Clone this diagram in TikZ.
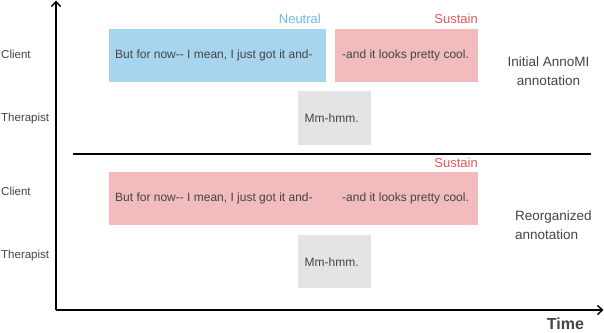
\documentclass[tikz,border=0pt]{standalone}
\usepackage{fontspec}
\setmainfont{Liberation Sans}
\usetikzlibrary{arrows.meta}
\definecolor{bluefill}{RGB}{166,213,237}
\definecolor{pinkfill}{RGB}{242,187,189}
\definecolor{grayfill}{RGB}{228,228,228}
\definecolor{neutralc}{RGB}{110,185,225}
\definecolor{sustainc}{RGB}{230,85,95}
\definecolor{txt}{RGB}{68,68,68}
\tikzset{
  box/.style={rectangle, inner sep=0pt, anchor=north west},
  utt/.style={font=\fontsize{12}{14}\selectfont, text=txt, inner sep=0pt},
  lab/.style={font=\fontsize{11.5}{13}\selectfont, text=txt, inner sep=0pt, anchor=west},
  tag/.style={font=\fontsize{13}{15}\selectfont, inner sep=0pt, anchor=east},
  note/.style={font=\fontsize{13.5}{19}\selectfont, text=txt, inner sep=0pt},
  axis/.style={line width=1.4pt, -{Straight Barb[length=5pt,width=9pt]}},
}
\begin{document}
\begin{tikzpicture}[x=1pt,y=-1pt]
\useasboundingbox (0,0) rectangle (604,332);
% axes
\coordinate (origin) at (56,310);
\coordinate (ytop) at (56,0.5);
\coordinate (xend) at (603.5,310);
\draw[axis] (origin) -- (ytop);
\draw[axis] (origin) -- (xend);
\node[font=\bfseries\fontsize{16}{18}\selectfont, text=txt, inner sep=0pt] (time) at (565.5,324) {Time};
% divider
\coordinate (d1) at (73,154);
\coordinate (d2) at (591,154);
\draw[line width=1.4pt] (d1) -- (d2);
% row labels
\node[lab] (c1) at (1,54) {Client};
\node[lab] (t1) at (1,119) {Therapist};
\node[lab] (c2) at (1,191) {Client};
\node[lab] (t2) at (1,256) {Therapist};
% top boxes
\node[box, fill=bluefill, minimum width=217pt, minimum height=53pt] (b1) at (109,29) {};
\node[box, fill=pinkfill, minimum width=143pt, minimum height=53pt] (p1) at (335,29) {};
\node[box, fill=grayfill, minimum width=73pt, minimum height=54pt] (g1) at (298,91) {};
\node[utt, anchor=west] (u1) at ([xshift=6pt]b1.west) {But for now-{}- I mean, I just got it and-};
\node[utt, anchor=west] (u2) at ([xshift=7pt]p1.west) {-and it looks pretty cool.};
\node[utt] (u3) at ([xshift=-3pt]g1.center) {Mm-hmm.};
\node[tag, text=neutralc] (neu) at (321,19) {Neutral};
\node[tag, text=sustainc] (sus1) at (478,19) {Sustain};
\node[note, align=center] (init) at (548.5,71.5) {Initial AnnoMI\\annotation};
% bottom boxes
\node[box, fill=pinkfill, minimum width=369pt, minimum height=53pt] (p2) at (109,172) {};
\node[box, fill=grayfill, minimum width=73pt, minimum height=53pt] (g2) at (298,235) {};
\node[utt, anchor=west] (v1) at ([xshift=6pt]p2.west) {But for now-{}- I mean, I just got it and-};
\node[utt, anchor=west] (v2) at (342,198.5) {-and it looks pretty cool.};
\node[utt] (v3) at ([xshift=-3pt]g2.center) {Mm-hmm.};
\node[tag, text=sustainc] (sus2) at (478,163) {Sustain};
\node[note, align=left, anchor=west] (reorg) at (515,225) {Reorganized\\annotation};
\end{tikzpicture}
\end{document}
